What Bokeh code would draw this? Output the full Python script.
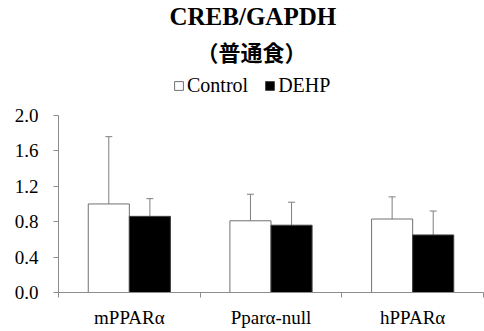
from bokeh.plotting import figure
from bokeh.models import (ColumnDataSource, FixedTicker, Whisker, TeeHead, Legend,
                          LegendItem, Title, PrintfTickFormatter, Range1d)
from bokeh.embed import file_html
from bokeh.resources import INLINE

categories = ["mPPARα", "Pparα-null", "hPPARα"]
control_mean = [1.00, 0.81, 0.83]
control_err = [0.76, 0.30, 0.25]
dehp_mean = [0.86, 0.76, 0.65]
dehp_err = [0.20, 0.26, 0.27]
y_ticks = [0.0, 0.4, 0.8, 1.2, 1.6, 2.0]

centers = [i + 0.5 for i in range(len(categories))]
bw = 0.29
ctrl_x = [c - bw / 2 for c in centers]
dehp_x = [c + bw / 2 for c in centers]

src_c = ColumnDataSource(dict(x=ctrl_x, top=control_mean,
                              up=[m + e for m, e in zip(control_mean, control_err)]))
src_d = ColumnDataSource(dict(x=dehp_x, top=dehp_mean,
                              up=[m + e for m, e in zip(dehp_mean, dehp_err)]))

p = figure(width=484, height=331, output_backend="svg", toolbar_location=None,
           x_range=Range1d(0, 3), y_range=Range1d(0, 2.53), title=None,
           min_border_left=58, min_border_right=1, min_border_bottom=39, min_border_top=0)
p.outline_line_color = None
p.xgrid.visible = False
p.ygrid.visible = False
p.background_fill_color = "white"

axis_col = "#8c8c8c"
serif = "'Liberation Serif', 'Times New Roman', serif"

for src in (src_c, src_d):
    w = Whisker(base="x", upper="up", lower="top", source=src, dimension="height",
                line_color="#7f7f7f", line_width=1,
                upper_head=TeeHead(size=7, line_color="#7f7f7f", line_width=1),
                lower_head=None)
    p.add_layout(w)

rc = p.vbar(x="x", top="top", width=bw, source=src_c, fill_color="white",
            line_color="#707070", line_width=1)
rd = p.vbar(x="x", top="top", width=bw, source=src_d, fill_color="black",
            line_color="#404040", line_width=1)

p.xaxis.ticker = FixedTicker(ticks=centers, minor_ticks=[0, 1, 2, 3])
p.xaxis.major_label_overrides = {c: n for c, n in zip(centers, categories)}
p.xaxis.major_tick_line_color = None
p.xaxis.minor_tick_line_color = axis_col
p.xaxis.minor_tick_out = 5
p.xaxis.minor_tick_in = 0
p.xaxis.axis_line_color = axis_col
p.xaxis.major_label_text_font = serif
p.xaxis.major_label_text_font_size = "19px"
p.xaxis.major_label_text_color = "black"
p.xaxis.major_label_standoff = 8

p.yaxis.ticker = FixedTicker(ticks=y_ticks)
p.yaxis.bounds = (0, 2.0)
p.yaxis.formatter = PrintfTickFormatter(format="%.1f")
p.yaxis.axis_line_color = axis_col
p.yaxis.major_tick_line_color = axis_col
p.yaxis.major_tick_out = 5
p.yaxis.major_tick_in = 0
p.yaxis.minor_tick_line_color = None
p.yaxis.major_label_text_font = serif
p.yaxis.major_label_text_font_size = "19px"
p.yaxis.major_label_text_color = "black"
p.yaxis.major_label_standoff = 15

legend = Legend(items=[LegendItem(label="Control", renderers=[rc]),
                       LegendItem(label="DEHP", renderers=[rd])],
                orientation="horizontal", location=(115, 195),
                border_line_color=None, background_fill_alpha=0,
                label_text_font=serif, label_text_font_size="20px",
                label_text_color="black",
                glyph_width=11, glyph_height=11, spacing=16, padding=2,
                label_standoff=3, margin=0)
p.add_layout(legend, "center")

t2 = Title(text="（普通食）", align="left", text_font="Noto Sans CJK JP",
           text_font_style="bold", text_font_size="22px", standoff=4,
           text_color="black", offset=138)
p.add_layout(t2, "above")
t1 = Title(text="CREB/GAPDH", align="left", text_font="'Liberation Serif'",
           text_font_style="bold", text_font_size="25px", standoff=1,
           text_color="black", offset=111)
p.add_layout(t1, "above")

open("out.html", "w").write(file_html(p, INLINE))
